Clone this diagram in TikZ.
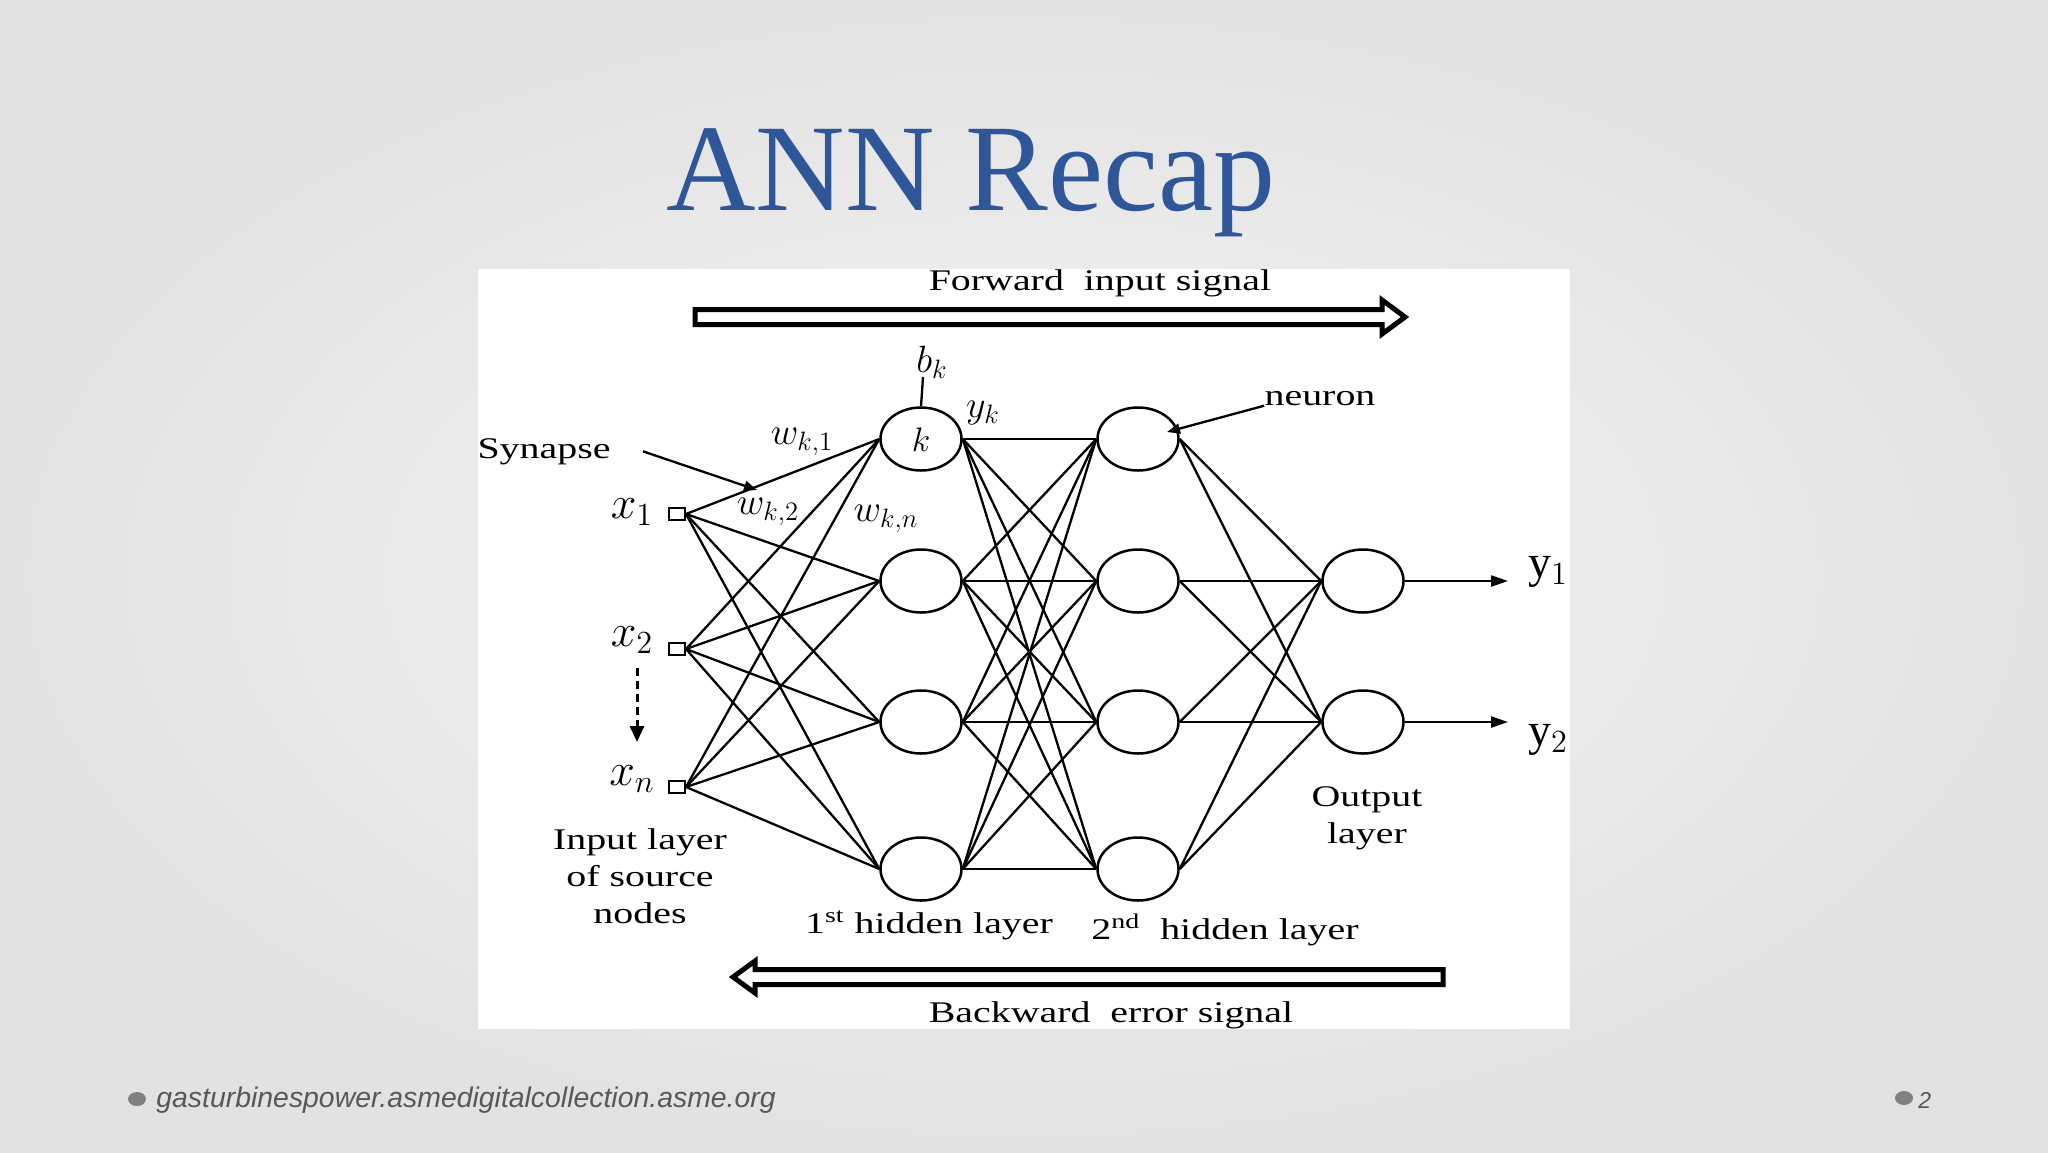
\RequirePackage{fix-cm}
\documentclass[tikz,border=0pt]{standalone}
\usepackage{fontspec}
\setmainfont{Liberation Serif}
\newfontfamily\diagfont[FakeStretch=1.33]{Liberation Serif}
\newfontfamily\footfont{Liberation Sans}
\usetikzlibrary{arrows.meta,shapes.geometric}
\definecolor{titleblue}{RGB}{47,86,153}
\definecolor{bgin}{RGB}{246,246,246}
\definecolor{bgout}{RGB}{226,226,227}
\definecolor{footgray}{RGB}{88,88,88}
\definecolor{dotgray}{RGB}{128,128,128}

\begin{document}
\begin{tikzpicture}[x=0.5pt, y=-0.5pt,
  hid/.style={ellipse, draw, line width=1.25pt, minimum width=40.5pt, minimum height=31.5pt, inner sep=0pt},
  src/.style={rectangle, draw, line width=1pt, minimum width=8pt, minimum height=6pt, inner sep=0pt},
  lbl/.style={font=\diagfont\fontsize{15pt}{18.5pt}\selectfont, inner sep=0pt, align=center},
  mth/.style={font=\fontsize{23pt}{23pt}\selectfont, inner sep=0pt},
  wlb/.style={font=\fontsize{19pt}{19pt}\selectfont, inner sep=0pt},
  wire/.style={line width=1.15pt},
  ptr/.style={line width=1.15pt, -{Triangle[length=6.5pt,width=5pt]}},
  fat/.style={line width=2.5pt, line join=miter},
  dot/.style={ellipse, fill=dotgray, minimum width=9pt, minimum height=7pt, inner sep=0pt}]
  % slide
  \shade[inner color=bgin, outer color=bgout] (0,0) rectangle (2048,1152);
  \useasboundingbox (0,0) rectangle (2048,1152);
  \node[anchor=base, text=titleblue, font=\fontsize{62pt}{62pt}\selectfont, inner sep=0pt] (title) at (971,210) {ANN Recap};
  \fill[white] (478,269) rectangle (1570,1029);

  % layers
  \node[src] (in1) at (677,514) {};
  \node[src] (in2) at (677,649) {};
  \node[src] (in3) at (677,787) {};
  \node[hid] (ha1) at (921,439) {};
  \node[hid] (ha2) at (921,581) {};
  \node[hid] (ha3) at (921,722) {};
  \node[hid] (ha4) at (921,869) {};
  \node[hid] (hb1) at (1138,439) {};
  \node[hid] (hb2) at (1138,581) {};
  \node[hid] (hb3) at (1138,722) {};
  \node[hid] (hb4) at (1138,869) {};
  \node[hid] (out1) at (1363,581) {};
  \node[hid] (out2) at (1363,722) {};
  \node[font=\fontsize{17pt}{17pt}\selectfont] (kk) at (921,440) {$k$};

  \foreach \i in {1,2,3}
    \foreach \j in {1,...,4}
      \draw[wire] (in\i.east) -- (ha\j.west);
  \foreach \i in {1,...,4}
    \foreach \j in {1,...,4}
      \draw[wire] (ha\i.east) -- (hb\j.west);
  \foreach \i in {1,...,4}
    \foreach \j in {1,2}
      \draw[wire] (hb\i.east) -- (out\j.west);

  % inputs and outputs
  \node[mth] (lx1) at (632,512) {$x_1$};
  \node[mth] (lx2) at (632,640) {$x_2$};
  \node[mth] (lxn) at (632,779) {$x_n$};
  \coordinate (dtop) at (637,668);
  \coordinate (dbot) at (637,742);
  \draw[line width=1.5pt, dash pattern=on 4pt off 2.5pt, -{Triangle[length=8pt,width=7pt]}] (dtop) -- (dbot);
  \node[mth] (ly1) at (1548,572) {$\mathrm{y}_1$};
  \node[mth] (ly2) at (1548,740) {$\mathrm{y}_2$};
  \coordinate (tip1) at (1508,581);
  \coordinate (tip2) at (1508,722);
  \draw[wire, -{Triangle[length=8.5pt,width=5.5pt]}] (out1.east) -- (tip1);
  \draw[wire, -{Triangle[length=8.5pt,width=5.5pt]}] (out2.east) -- (tip2);

  % weights, bias
  \node[wlb] (lw1) at (802,442) {$w_{k,1}$};
  \node[wlb] (lw2) at (768,512) {$w_{k,2}$};
  \node[wlb] (lwn) at (886,519) {$w_{k,n}$};
  \node[font=\fontsize{19pt}{19pt}\selectfont, inner sep=0pt] (lbk) at (932,362) {$b_k$};
  \node[font=\fontsize{19pt}{19pt}\selectfont, inner sep=0pt] (lyk) at (983,413) {$y_k$};
  \coordinate (bktop) at (923,377);
  \draw[wire] (bktop) -- (ha1.north);

  % pointers
  \node[lbl, anchor=base] (lsyn) at (544,458) {Synapse};
  \coordinate (syntip) at (757,490);
  \draw[ptr] ([xshift=16pt]lsyn.east) -- (syntip);
  \node[lbl, anchor=base] (lneu) at (1320,405) {neuron};
  \coordinate (neutip) at (1167,432);
  \draw[ptr] (lneu.south west) -- (neutip);

  % layer names
  \node[lbl] (lin) at (640,876) {Input layer\\of source\\nodes};
  \node[lbl, anchor=base] (lh1) at (929,933) {1\textsuperscript{st} hidden layer};
  \node[lbl, anchor=base] (lh2) at (1225,939) {2\textsuperscript{nd}\ \ hidden layer};
  \node[lbl] (lout) at (1367,818) {Output\\layer};

  % signal arrows
  \node[lbl, anchor=base] (lfwd) at (1100,290) {Forward\ \ input signal};
  \draw[fat] (695,309.5) -- (1382,309.5) -- (1382,300) -- (1405,317) -- (1382,334) -- (1382,324.5) -- (695,324.5) -- cycle;
  \draw[fat] (1443,969.5) -- (755,969.5) -- (755,961) -- (733,977) -- (755,993) -- (755,984.5) -- (1443,984.5) -- cycle;
  \node[lbl, anchor=base] (lbwd) at (1111,1022) {Backward\ \ error signal};

  % footer
  \node[dot] (fdot1) at (137,1099) {};
  \node[anchor=base west, text=footgray, font=\footfont\itshape\fontsize{14.2pt}{14.2pt}\selectfont, inner sep=0pt] (src) at (156,1107) {gasturbinespower.asmedigitalcollection.asme.org};
  \node[dot] (fdot2) at (1904,1098) {};
  \node[anchor=base west, text=footgray, font=\footfont\itshape\fontsize{11.5pt}{11.5pt}\selectfont, inner sep=0pt] (pg) at (1918,1108) {2};
\end{tikzpicture}
\end{document}
